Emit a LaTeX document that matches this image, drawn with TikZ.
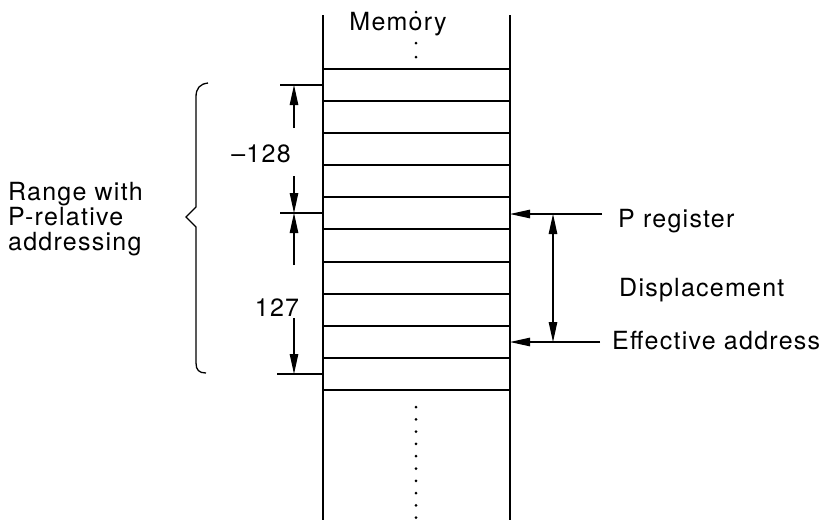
\documentclass[tikz,border=0pt]{standalone}
\usepackage{fontspec}
\setmainfont{TeX Gyre Heros}[LetterSpace=5]
\usetikzlibrary{arrows.meta}
\begin{document}
\begin{tikzpicture}[x=1pt,y=-1pt,
  col/.style={line width=2pt},
  rowline/.style={line width=2pt},
  dim/.style={line width=1.1pt},
  tipend/.style={-{Triangle[length=20pt,width=8.5pt]}},
  tipboth/.style={{Triangle[length=20pt,width=8.5pt]}-{Triangle[length=20pt,width=8.5pt]}},
  lbl/.style={font=\fontsize{25}{26}\selectfont, inner sep=0pt},
  dotmark/.style={circle, fill, inner sep=0pt, minimum size=3pt}
]
\useasboundingbox (0,0) rectangle (831,520);
% memory column
\coordinate (lt) at (323,15); \coordinate (lb) at (323,520);
\coordinate (rt) at (510,15); \coordinate (rb) at (510,520);
\draw[col] (lt) -- (lb);
\draw[col] (rt) -- (rb);
\foreach \y in {69,101,133,165,197,229,262,294,326,358,390} {
  \draw[rowline] (323,\y) -- (510,\y);
}
\node[lbl, anchor=base] (mem) at (398,30) {Memory};
\foreach \y in {12,43,57} { \node[dotmark] at (416,\y) {}; }
\foreach \i in {0,...,9} { \node[dotmark] at (416,{407+12.3*\i}) {}; }
% left dimension
\coordinate (xa1) at (280,85);  \coordinate (xb1) at (323,85);
\coordinate (xa2) at (280,213); \coordinate (xb2) at (323,213);
\coordinate (xa3) at (277,374); \coordinate (xb3) at (323,374);
\draw[dim] (xa1) -- (xb1);
\draw[dim] (xa2) -- (xb2);
\draw[dim] (xa3) -- (xb3);
\coordinate (d1) at (294,85);  \coordinate (d2) at (294,213); \coordinate (d3) at (294,374);
\coordinate (s1) at (294,128); \coordinate (s2) at (294,176);
\coordinate (s3) at (294,265); \coordinate (s4) at (294,318);
\draw[dim,tipend] (s1) -- (d1);
\draw[dim,tipend] (s2) -- (d2);
\draw[dim,tipend] (s3) -- (d2);
\draw[dim,tipend] (s4) -- (d3);
\node[lbl] (m128) at (261,154) {--128};
\node[lbl] (p127) at (277,307.5) {127};
% brace
\draw[line width=1.3pt] (208,83) .. controls (200,84) and (196,88) .. (196,97)
  -- (196,207) -- (186,217) -- (196,227) -- (196,363)
  .. controls (196,370) and (199,373) .. (206,373);
\node[lbl, anchor=base west] (r1) at (8,200) {Range with};
\node[lbl, anchor=base west] (r2) at (8,225) {P-relative};
\node[lbl, anchor=base west] (r3) at (8,250) {addressing};
% right side
\coordinate (pa) at (602,214); \coordinate (pb) at (510,214);
\coordinate (ea) at (600,342); \coordinate (eb) at (510,342);
\coordinate (dt) at (553,214); \coordinate (db) at (553,342);
\draw[dim,tipend] (pa) -- (pb);
\draw[dim,tipend] (ea) -- (eb);
\draw[dim,tipboth] (dt) -- (db);
\node[lbl, anchor=base west] (preg) at (618,227) {P register};
\node[lbl, anchor=base west] (disp) at (619,296) {Displacement};
\node[lbl, anchor=base west] (eff) at (612,349) {Effective address};
\end{tikzpicture}
\end{document}
